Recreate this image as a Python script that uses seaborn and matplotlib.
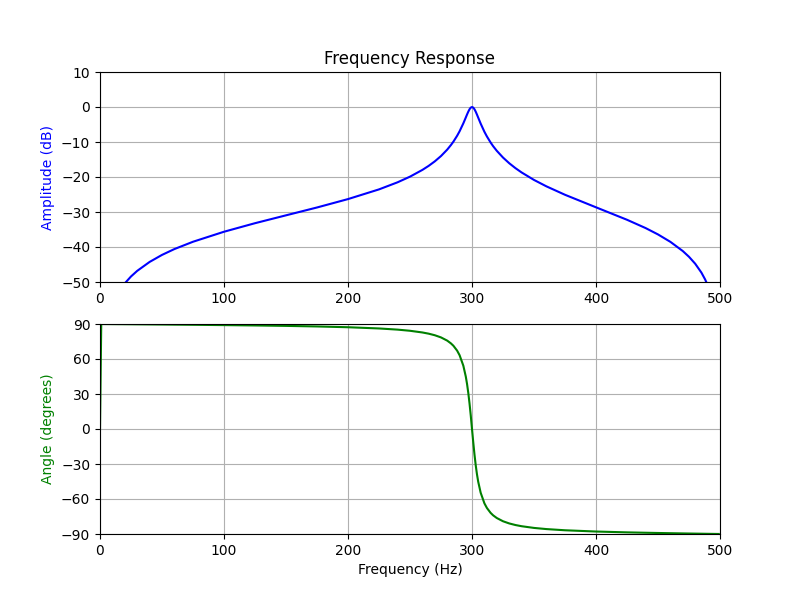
import numpy as np
import pandas as pd
import seaborn as sns
import matplotlib
matplotlib.use("Agg")
import matplotlib.pyplot as plt

# amplitude curve (Hz, dB)
amp_freq = [5, 10, 15, 20, 25, 30, 40, 50, 60, 75, 100, 125, 150, 175, 200,
            225, 240, 250, 260, 265, 270, 275, 280, 283, 285, 288, 290, 293,
            295, 296, 297, 298, 299, 300, 301, 302, 303, 304, 305, 307, 310,
            312, 315, 317, 320, 325, 330, 335, 340, 350, 360, 375, 400, 425,
            440, 450, 460, 470, 475, 480, 485, 488, 490, 495, 499]
amp_db = [-62.45, -56.42, -52.89, -50.38, -48.42, -46.82, -44.27, -42.26,
          -40.59, -38.50, -35.64, -33.20, -30.95, -28.71, -26.31, -23.54,
          -21.51, -19.90, -17.97, -16.83, -15.53, -14.01, -12.18, -10.87,
          -9.90, -8.22, -6.93, -4.68, -3.00, -2.14, -1.34, -0.65, -0.18,
          0.0, -0.17, -0.65, -1.34, -2.16, -3.03, -4.75, -7.07, -8.40,
          -10.14, -11.17, -12.52, -14.44, -16.06, -17.46, -18.70, -20.84,
          -22.67, -25.08, -28.66, -32.22, -34.59, -36.41, -38.53, -41.16,
          -42.80, -44.78, -47.31, -49.27, -50.86, -56.90, -70.9]

# phase curve (Hz, degrees)
ph_freq = [0, 1, 10, 20, 30, 50, 60, 75, 100, 125, 150, 175, 200, 225, 240,
           250, 260, 265, 270, 275, 280, 283, 285, 288, 290, 293, 295, 296,
           297, 298, 299, 300, 301, 302, 303, 304, 305, 307, 310, 312, 315,
           317, 320, 325, 330, 335, 340, 350, 360, 375, 400, 425, 440, 450,
           460, 475, 480, 490, 499]
ph_deg = [0.0, 89.99, 89.91, 89.83, 89.74, 89.56, 89.46, 89.32, 89.05, 88.75,
          88.38, 87.90, 87.23, 86.18, 85.18, 84.19, 82.74, 81.72, 80.37,
          78.50, 75.76, 73.38, 71.36, 67.17, 63.23, 54.31, 44.91, 38.62,
          30.97, 21.96, 11.54, 0.0, -11.30, -21.84, -31.05, -38.77, -45.15,
          -54.65, -63.69, -67.67, -71.88, -73.96, -76.31, -79.07, -80.94,
          -82.30, -83.33, -84.79, -85.78, -86.80, -87.88, -88.60, -88.93,
          -89.13, -89.32, -89.59, -89.67, -89.84, -89.98]

amp = pd.DataFrame({"f": amp_freq, "db": amp_db})
ph = pd.DataFrame({"f": ph_freq, "deg": ph_deg})

fig, (ax1, ax2) = plt.subplots(2, 1, figsize=(8, 6), dpi=100)

sns.lineplot(data=amp, x="f", y="db", color="b", ax=ax1, sort=False)
ax1.set_title("Frequency Response")
ax1.set_ylabel("Amplitude (dB)", color="b")
ax1.set_xlabel("")
ax1.set_xlim(0, 500)
ax1.set_ylim(-50, 10)
ax1.grid(True)

sns.lineplot(data=ph, x="f", y="deg", color="g", ax=ax2, sort=False)
ax2.set_ylabel("Angle (degrees)", color="g")
ax2.set_xlabel("Frequency (Hz)")
ax2.set_yticks([-90, -60, -30, 0, 30, 60, 90])
ax2.set_xlim(0, 500)
ax2.set_ylim(-90, 90)
ax2.grid(True)

fig.savefig("out.png")
